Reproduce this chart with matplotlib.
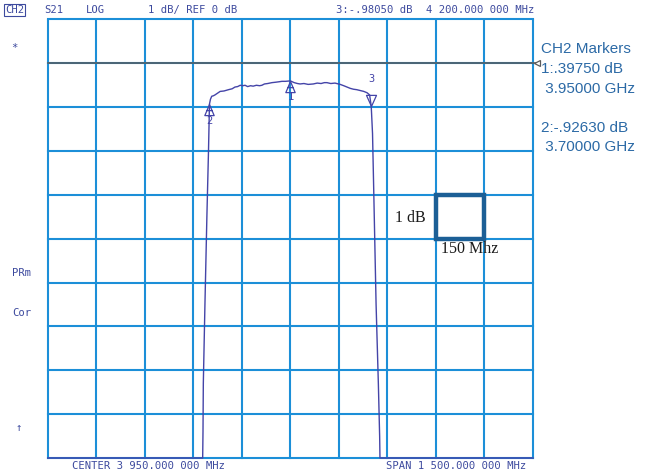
import numpy as np
import matplotlib
matplotlib.use("Agg")
import matplotlib.pyplot as plt
from matplotlib.path import Path
from matplotlib.patches import Rectangle

# ---- analyzer settings ----
center_mhz = 3950
span_mhz = 1500
ref_db = 0.0
db_per_div = 1.0
n_div = 10

# ---- S21 trace (MHz, dB); stopband sits below the screen bottom ----
freq_mhz = [3200, 3679, 3680, 3681, 3686, 3692, 3697, 3700, 3703, 3707, 3712, 3717,
            3725, 3733, 3745, 3759, 3770, 3779, 3787, 3795, 3803, 3810, 3818, 3827,
            3835, 3845, 3855, 3862, 3870, 3880, 3893, 3905, 3915, 3924, 3935, 3950,
            3962, 3972, 3980, 3992, 4005, 4021, 4033, 4045, 4055, 4063, 4075, 4088,
            4104, 4115, 4125, 4135, 4145, 4155, 4166, 4177, 4187, 4195, 4200, 4204,
            4208, 4215, 4222, 4226, 4227, 4700]
s21_db = [-9.0, -9.0, -8.4, -7.3, -5.5, -3.5, -2.0, -0.93, -0.82, -0.75, -0.74, -0.72,
          -0.68, -0.64, -0.63, -0.60, -0.58, -0.54, -0.53, -0.50, -0.51, -0.50, -0.53, -0.51,
          -0.52, -0.50, -0.51, -0.50, -0.47, -0.46, -0.44, -0.43, -0.42, -0.41, -0.41, -0.40,
          -0.44, -0.46, -0.47, -0.46, -0.48, -0.47, -0.45, -0.46, -0.44, -0.44, -0.46, -0.45,
          -0.48, -0.51, -0.54, -0.57, -0.59, -0.60, -0.62, -0.64, -0.67, -0.72, -0.98, -1.6,
          -3.0, -5.5, -7.3, -8.5, -9.0, -9.0]

# ---- markers ----
marker_ids = ["1", "2", "3"]
marker_mhz = [3950, 3700, 4200]
marker_db = [-0.3975, -0.9263, -0.9805]

# ---- colours ----
grid_col = "#1c8fd8"
trace_col = "#4444a8"
text_col = "#3d4a9e"
side_col = "#2c6aa6"
box_col = "#1c5f96"

W, H = 657, 474
fig = plt.figure(figsize=(W / 100, H / 100), dpi=100)
fig.patch.set_facecolor("white")

x0, x1 = 47.7, 533.0
y0, y1 = 19.5, 458.0
ax = fig.add_axes([x0 / W, 1 - y1 / H, (x1 - x0) / W, (y1 - y0) / H])

fmin = center_mhz - span_mhz / 2
fmax = center_mhz + span_mhz / 2
top_db = ref_db + 1 * db_per_div
bot_db = top_db - n_div * db_per_div
ax.set_xlim(fmin, fmax)
ax.set_ylim(bot_db, top_db)
ax.set_xticks([])
ax.set_yticks([])
for s in ax.spines.values():
    s.set_visible(False)

# graticule
for k in range(n_div + 1):
    xv = fmin + k * span_mhz / n_div
    ax.axvline(xv, color=grid_col, lw=1.5, zorder=1, clip_on=False)
    yv = bot_db + k * db_per_div
    ax.axhline(yv, color=grid_col, lw=1.5, zorder=1, clip_on=False)

# reference level line and its pointer
ax.plot([fmin, fmax + 12], [ref_db, ref_db], color="#5a5a5a", lw=1.1, zorder=2, clip_on=False)
ax.plot([fmax + 12], [ref_db], marker="<", ms=5, mfc="white", mec="#5a5a5a",
        mew=0.9, clip_on=False, zorder=3)

# trace, clipped to the screen
trace = np.clip(np.array(s21_db), bot_db, top_db)
ax.plot(freq_mhz, trace, color=trace_col, lw=1.0, zorder=4, clip_on=False)

# marker symbols: tip placed on the trace point
up_path = Path([(0, 0), (-0.42, -1), (0.42, -1), (0, 0), (-0.25, -0.55), (0.25, -0.55)],
               [Path.MOVETO, Path.LINETO, Path.LINETO, Path.CLOSEPOLY, Path.MOVETO, Path.LINETO])
down_path = Path([(0, 0), (-0.45, 1), (0.45, 1), (0, 0)],
                 [Path.MOVETO, Path.LINETO, Path.LINETO, Path.CLOSEPOLY])
for mid, mf, md in zip(marker_ids, marker_mhz, marker_db):
    if mid == "3":
        ax.plot([mf], [md], marker=down_path, ms=16, mfc="none", mec=trace_col, mew=0.9, zorder=5)
        ax.annotate(mid, (mf, md), xytext=(0, 19.5), textcoords="offset points", ha="center",
                    va="center", fontsize=7.5, color=trace_col, family="DejaVu Sans Mono")
    else:
        ax.plot([mf], [md], marker=up_path, ms=16, mfc="none", mec=trace_col, mew=0.9, zorder=5)
        ax.annotate(mid, (mf, md), xytext=(0, -12), textcoords="offset points", ha="center",
                    va="center", fontsize=7.5, color=trace_col, family="DejaVu Sans Mono")

# scale box: one division
ax.add_patch(Rectangle((fmin + 8 * span_mhz / n_div, top_db - 5 * db_per_div),
                       span_mhz / n_div, db_per_div, fill=False, ec=box_col, lw=3.2, zorder=6))

def px(x, y):
    return x / W, 1 - y / H

mono = dict(family="DejaVu Sans Mono", color=text_col, fontsize=7.6, va="center")
fig.text(*px(5, 10), "CH2", ha="left", **mono,
         bbox=dict(boxstyle="square,pad=0.12", fc="white", ec=text_col, lw=0.8))
fig.text(*px(44, 10), "S21", ha="left", **mono)
fig.text(*px(86, 10), "LOG", ha="left", **mono)
fig.text(*px(148, 10), "1 dB/ REF 0 dB", ha="left", **mono)
fig.text(*px(336, 10), "3:-.98050 dB", ha="left", **mono)
fig.text(*px(426, 10), "4 200.000 000 MHz", ha="left", **mono)
fig.text(*px(72, 466), "CENTER 3 950.000 000 MHz", ha="left", **mono)
fig.text(*px(386, 466), "SPAN 1 500.000 000 MHz", ha="left", **mono)
fig.text(*px(14, 48), "*", ha="center", **mono)
fig.text(*px(12, 273), "PRm", ha="left", **mono)
fig.text(*px(12, 313), "Cor", ha="left", **mono)
fig.text(*px(19, 428), "\u2191", ha="center", **mono)

side = dict(family="Liberation Sans", color=side_col, fontsize=11, va="center", ha="left")
fig.text(*px(541, 49), "CH2 Markers", **side)
fig.text(*px(541, 69), "1:.39750 dB", **side)
fig.text(*px(541, 89), " 3.95000 GHz", **side)
fig.text(*px(541, 128), "2:-.92630 dB", **side)
fig.text(*px(541, 147), " 3.70000 GHz", **side)

serif = dict(family="Liberation Serif", color="#1a1a1a", fontsize=11.5, va="center")
fig.text(*px(395, 218), "1 dB", ha="left", **serif)
fig.text(*px(441, 249), "150 Mhz", ha="left", **serif)

fig.savefig("out.png", dpi=100, facecolor="white")
